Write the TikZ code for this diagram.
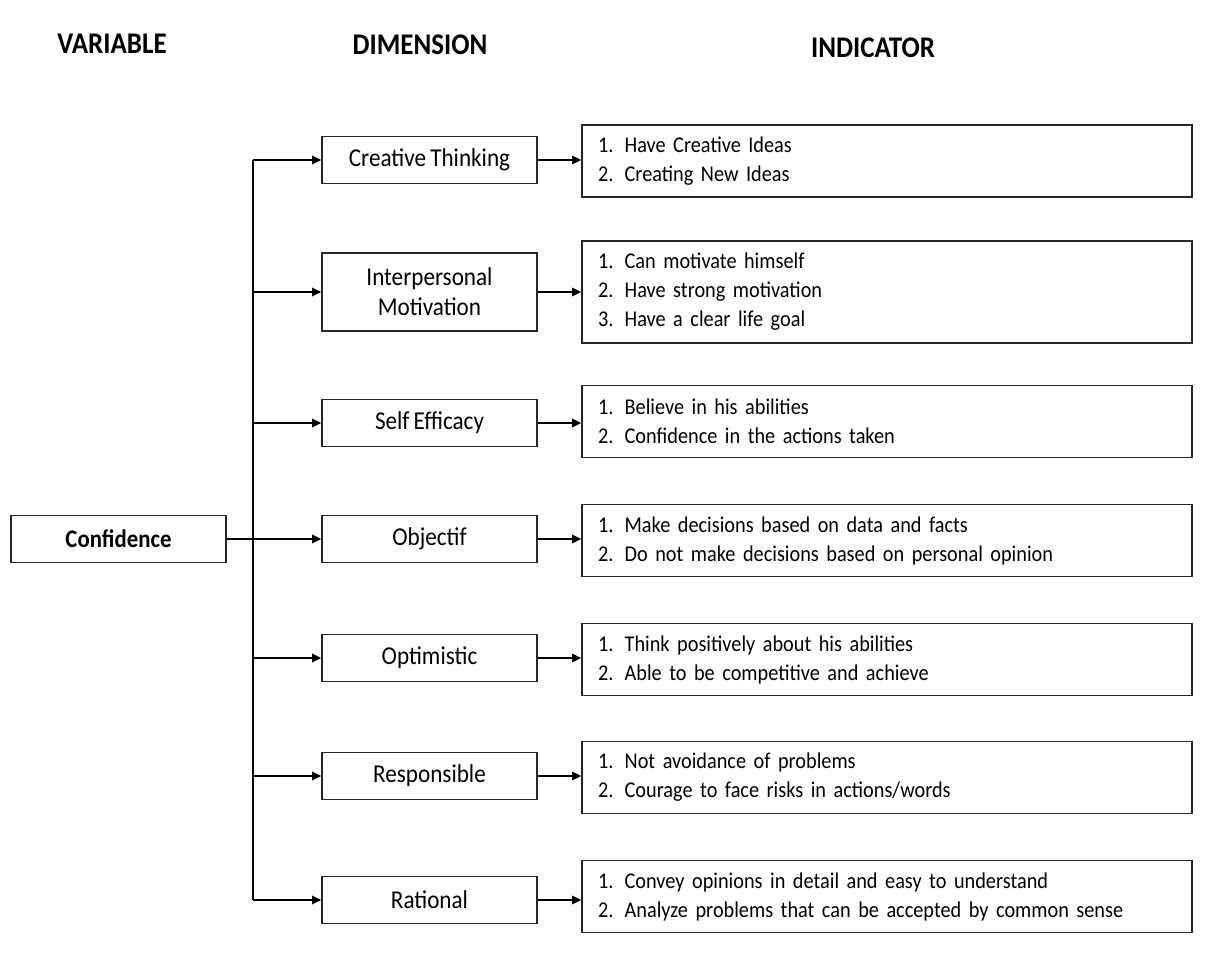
\documentclass[tikz,border=0pt]{standalone}
\usepackage{fontspec}
\setmainfont{Carlito}[FakeStretch=0.9,WordSpace=0.8]
\usetikzlibrary{arrows.meta}
\begin{document}
\begin{tikzpicture}[x=0.75pt,y=-0.75pt,
  box/.style={draw=black!85,line width=1pt,inner sep=0pt},
  dimbox/.style={box,minimum width=161.25pt,minimum height=35.25pt,align=center,font=\fontsize{19.3}{22.5}\selectfont},
  indbox/.style={box,minimum width=457.5pt,text width=433.5pt,align=left,font=\fontsize{16.9}{21.75}\selectfont},
  hdr/.style={font=\fontsize{22.5}{26}\selectfont\bfseries},
  arr/.style={line width=1.2pt,-{Triangle[length=7pt,width=6.5pt]}},
  ln/.style={line width=1.2pt}]
\useasboundingbox (0,0) rectangle (1210,955);
\node[hdr] (hv) at (112,44) {VARIABLE};
\node[hdr] (hd) at (420,45) {DIMENSION};
\node[hdr] (hi) at (873,48) {INDICATOR};

\node[box,minimum width=161.25pt,minimum height=35.25pt,font=\fontsize{19}{22}\selectfont\bfseries] (conf) at (118.5,539) {Confidence};

\node[dimbox] (d1) at (429.5,160) {Creative Thinking};
\node[dimbox,minimum height=58.5pt] (d2) at (429.5,292) {Interpersonal\\Motivation};
\node[dimbox] (d3) at (429.5,423) {Self Efficacy};
\node[dimbox] (d4) at (429.5,539) {Objectif};
\node[dimbox] (d5) at (429.5,658) {Optimistic};
\node[dimbox] (d6) at (429.5,776) {Responsible};
\node[dimbox] (d7) at (429.5,900) {Rational};

\newcommand{\itm}[1]{\makebox[20pt][l]{#1}}
\node[indbox,minimum height=54pt] (i1) at (887,161) {\itm{1.}Have Creative Ideas\\\itm{2.}Creating New Ideas};
\node[indbox,minimum height=76.5pt] (i2) at (887,292) {\itm{1.}Can motivate himself\\\itm{2.}Have strong motivation\\\itm{3.}Have a clear life goal};
\node[indbox,minimum height=54pt] (i3) at (887,421.5) {\itm{1.}Believe in his abilities\\\itm{2.}Confidence in the actions taken};
\node[indbox,minimum height=54pt] (i4) at (887,540.5) {\itm{1.}Make decisions based on data and facts\\\itm{2.}Do not make decisions based on personal opinion};
\node[indbox,minimum height=54pt] (i5) at (887,659.5) {\itm{1.}Think positively about his abilities\\\itm{2.}Able to be competitive and achieve};
\node[indbox,minimum height=54pt] (i6) at (887,777.5) {\itm{1.}Not avoidance of problems\\\itm{2.}Courage to face risks in actions/words};
\node[indbox,minimum height=54pt] (i7) at (887,896.5) {\itm{1.}Convey opinions in detail and easy to understand\\\itm{2.}Analyze problems that can be accepted by common sense};

\coordinate (T) at (253,164);
\draw[ln] (d1.west -| T) -- (d7.west -| T);
\foreach \k in {1,2,3,5,6,7}{
  \draw[arr] (d\k.west -| T) -- (d\k.west);
  \draw[arr] (d\k.east) -- (d\k.east -| i\k.west);
}
\draw[arr] (conf.east) -- (d4.west);
\draw[arr] (d4.east) -- (d4.east -| i4.west);
\end{tikzpicture}
\end{document}
